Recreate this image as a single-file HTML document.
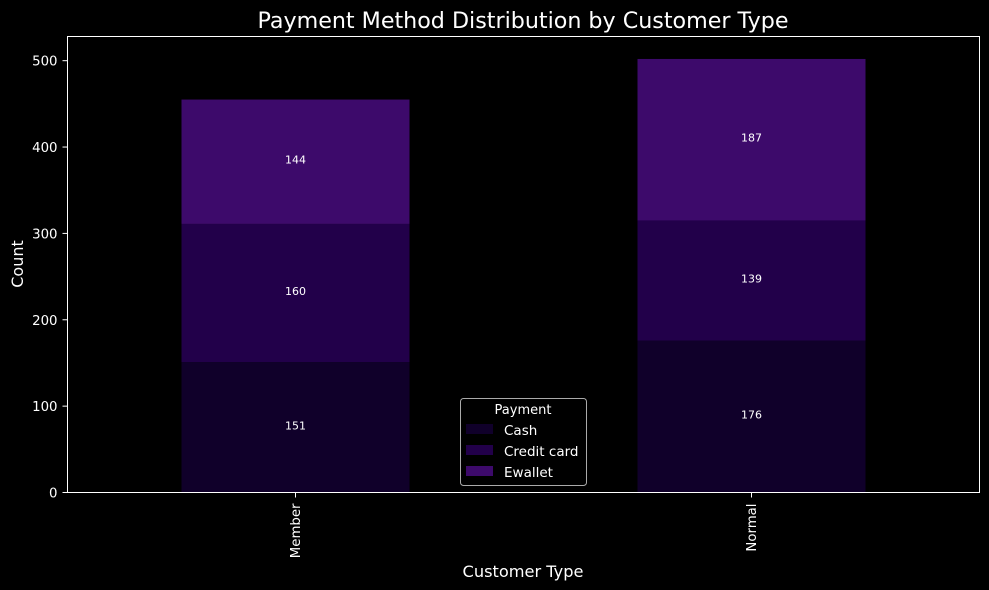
<!DOCTYPE html>
<html><head><meta charset="utf-8"><style>
html,body{margin:0;padding:0;background:#000;}
svg{display:block;font-family:"DejaVu Sans","Liberation Sans",sans-serif;}
</style></head><body>
<svg id="chart" width="989" height="590" viewBox="0 0 989 590">
<rect width="989" height="590" fill="#000"/>
<text x="523" y="28" fill="#fff" font-size="22.2" text-anchor="middle">Payment Method Distribution by Customer Type</text>
<g id="marks"></g>
<g id="axes"></g>
<rect x="67.5" y="36.5" width="912" height="456" fill="none" stroke="#fff" stroke-width="1"/>
<text x="523" y="577" fill="#fff" font-size="16.2" text-anchor="middle">Customer Type</text>
<text transform="translate(23,264) rotate(-90)" fill="#fff" font-size="16" text-anchor="middle">Count</text>
<g>
<rect x="460.5" y="398.5" width="126" height="87" rx="3" fill="#000" stroke="#aaa"/>
<text x="523" y="414" fill="#fff" font-size="13" text-anchor="middle">Payment</text>
<g id="legend-items"></g>
</g>
</svg>
<script>
const categories = ["Member", "Normal"];
const seriesNames = ["Cash", "Credit card", "Ewallet"];
const cashValues = [151, 176];
const creditValues = [160, 139];
const ewalletValues = [144, 187];
const yTicks = [0, 100, 200, 300, 400, 500];
const colors = ["#10002a", "#22004a", "#3d0a6b"];

const series = [cashValues, creditValues, ewalletValues];
const X0 = 67.5, X1 = 979.5, Y0 = 492.5, YTOP = 36.5;
const yMax = 528;
function yScale(v){ return Y0 - v * (Y0 - YTOP) / yMax; }
const step = (X1 - X0) / categories.length;
function xScale(i){ return X0 + step * (i + 0.5); }
const barW = step * 0.5;
const NS = "http://www.w3.org/2000/svg";
const marks = document.getElementById("marks");
const axes = document.getElementById("axes");

categories.forEach((c, i) => {
  let base = 0;
  series.forEach((vals, s) => {
    const v = vals[i];
    const r = document.createElementNS(NS, "rect");
    r.setAttribute("x", xScale(i) - barW / 2);
    r.setAttribute("y", yScale(base + v));
    r.setAttribute("width", barW);
    r.setAttribute("height", yScale(base) - yScale(base + v));
    r.setAttribute("fill", colors[s]);
    
    
    marks.appendChild(r);
    const t = document.createElementNS(NS, "text");
    t.setAttribute("x", xScale(i));
    t.setAttribute("y", yScale(base + v / 2) + 2);
    t.setAttribute("fill", "#fff");
    t.setAttribute("font-size", "11");
    t.setAttribute("text-anchor", "middle");
    t.textContent = v;
    
    
    marks.appendChild(t);
    base += v;
  });
  const tk = document.createElementNS(NS, "line");
  tk.setAttribute("x1", xScale(i)); tk.setAttribute("x2", xScale(i));
  tk.setAttribute("y1", Y0); tk.setAttribute("y2", Y0 + 5);
  tk.setAttribute("stroke", "#fff");
  
  
  axes.appendChild(tk);
  const lt = document.createElementNS(NS, "text");
  lt.setAttribute("transform", "translate(" + (xScale(i) + 4.5) + "," + (Y0 + 11) + ") rotate(-90)");
  lt.setAttribute("fill", "#fff");
  lt.setAttribute("font-size", "13.3");
  lt.setAttribute("text-anchor", "end");
  lt.textContent = c;
  
  
  axes.appendChild(lt);
});

yTicks.forEach(v => {
  const y = yScale(v);
  const tk = document.createElementNS(NS, "line");
  tk.setAttribute("x1", X0 - 5); tk.setAttribute("x2", X0);
  tk.setAttribute("y1", y); tk.setAttribute("y2", y);
  tk.setAttribute("stroke", "#fff");
  
  
  axes.appendChild(tk);
  const t = document.createElementNS(NS, "text");
  t.setAttribute("x", X0 - 10);
  t.setAttribute("y", y + 5);
  t.setAttribute("fill", "#fff");
  t.setAttribute("font-size", "13.3");
  t.setAttribute("text-anchor", "end");
  t.textContent = v;
  
  
  axes.appendChild(t);
});

const li = document.getElementById("legend-items");
seriesNames.forEach((n, s) => {
  const y = 424 + s * 21;
  const r = document.createElementNS(NS, "rect");
  r.setAttribute("x", 466); r.setAttribute("y", y);
  r.setAttribute("width", 27); r.setAttribute("height", 10);
  r.setAttribute("fill", colors[s]);
  
  
  li.appendChild(r);
  const t = document.createElementNS(NS, "text");
  t.setAttribute("x", 504); t.setAttribute("y", y + 11);
  t.setAttribute("fill", "#fff");
  t.setAttribute("font-size", "13.5");
  t.textContent = n;
  
  
  li.appendChild(t);
});
</script>
</body></html>
